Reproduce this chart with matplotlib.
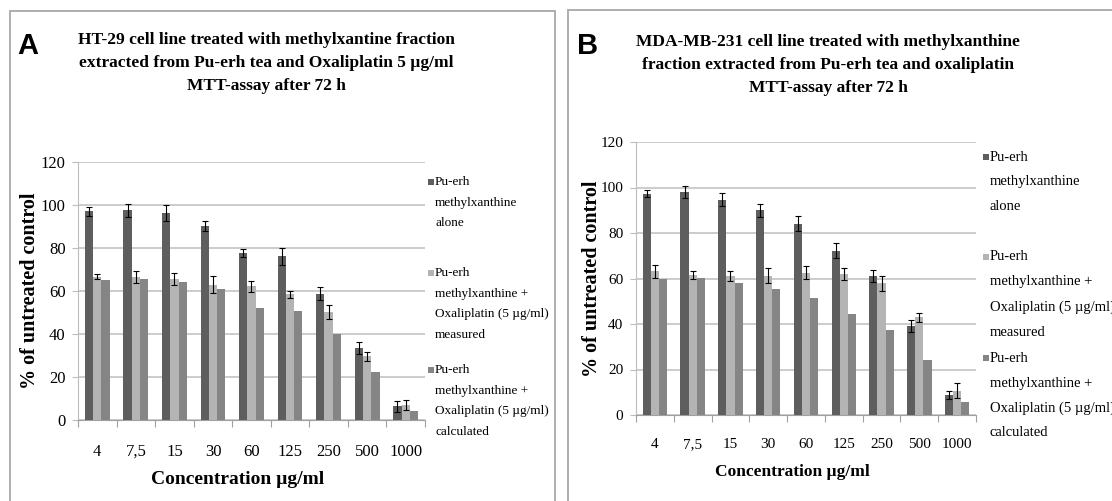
import numpy as np
import matplotlib
matplotlib.use('Agg')
import matplotlib.pyplot as plt
from matplotlib.patches import Rectangle

# Data
conc = ['4', '7,5', '15', '30', '60', '125', '250', '500', '1000']

a_alone = [97.1, 97.5, 96.2, 90.3, 77.7, 76.2, 58.8, 33.6, 6.3]
a_alone_err = [2.0, 3.0, 3.7, 2.2, 1.9, 4.0, 3.0, 2.7, 2.5]
a_meas = [66.6, 66.4, 65.7, 63.0, 62.1, 58.4, 50.3, 29.7, 7.0]
a_meas_err = [1.2, 2.7, 2.7, 3.9, 2.6, 1.5, 3.1, 2.1, 2.2]
a_calc = [65.0, 65.8, 64.3, 60.7, 52.2, 50.9, 39.8, 22.5, 4.3]

b_alone = [97.3, 98.0, 94.6, 89.9, 84.1, 72.3, 61.2, 39.2, 8.7]
b_alone_err = [1.6, 2.8, 2.8, 3.0, 3.4, 3.5, 2.7, 2.7, 1.8]
b_meas = [63.1, 61.6, 61.3, 61.2, 62.6, 61.9, 57.9, 43.0, 10.7]
b_meas_err = [2.9, 1.8, 2.2, 3.3, 2.9, 2.7, 3.4, 2.0, 3.3]
b_calc = [59.7, 60.1, 57.9, 55.3, 51.6, 44.3, 37.4, 24.1, 5.5]

legend_lines = [
    ['Pu-erh', 'methylxanthine', 'alone'],
    ['Pu-erh', 'methylxanthine +', 'Oxaliplatin (5 \u00b5g/ml)', 'measured'],
    ['Pu-erh', 'methylxanthine +', 'Oxaliplatin (5 \u00b5g/ml)', 'calculated'],
]
title_a = ('HT-29 cell line treated with methylxantine fraction\n'
           'extracted from Pu-erh tea and Oxaliplatin 5 \u00b5g/ml\n'
           'MTT-assay after 72 h')
title_b = ('MDA-MB-231 cell line treated with methylxanthine\n'
           'fraction extracted from Pu-erh tea and oxaliplatin\n'
           'MTT-assay after 72 h')

colors = ['#5e5e5e', '#b4b4b4', '#858585']
W, H = 1112, 501
SERIF = 'Liberation Serif'

fig = plt.figure(figsize=(W / 100, H / 100), dpi=100)
fig.patch.set_facecolor('white')


def fx(x):
    return x / W


def fy(y):
    return 1 - y / H


def panel(box, ax_box, series, errs, title, title_xy, letter_xy, letter,
          ylab_xy, xlab_xy, tick_fs, xpad, xlab_fs, leg_x, leg_y, leg_fs,
          leg_dy):
    # outer frame of the panel
    x0, y0, x1, y1 = box
    fig.add_artist(Rectangle((fx(x0), fy(y1)), fx(x1 - x0), (y1 - y0) / H,
                             transform=fig.transFigure, fill=False,
                             edgecolor='#a8a8a8', linewidth=1.3))
    l, t, r, b = ax_box
    ax = fig.add_axes([fx(l), fy(b), fx(r - l), (b - t) / H])
    x = np.arange(len(conc))
    w = 0.215
    for i, (vals, col) in enumerate(zip(series, colors)):
        ax.bar(x + (i - 1) * w, vals, w, color=col, zorder=3,
               yerr=errs[i], error_kw=dict(ecolor='black', elinewidth=0.8,
                                           capsize=2.5, capthick=0.8,
                                           zorder=4))
    ax.set_xlim(-0.5, len(conc) - 0.5)
    ax.set_ylim(0, 120)
    ax.set_yticks(range(0, 121, 20))
    ax.yaxis.grid(True, color='#c8c8c8', linewidth=1.3, zorder=0)
    ax.set_axisbelow(True)
    for s in ['top', 'right']:
        ax.spines[s].set_visible(False)
    ax.spines['left'].set_color('#bdbdbd')
    ax.spines['bottom'].set_color('#a0a0a0')
    ax.set_xticks(np.arange(-0.5, len(conc), 1))
    ax.set_xticklabels([])
    ax.set_xticks(x, minor=True)
    ax.set_xticklabels(conc, minor=True, fontsize=tick_fs, family=SERIF,
                       va='baseline')
    ax.tick_params(axis='x', which='major', length=5, color='#a0a0a0')
    ax.tick_params(axis='x', which='minor', length=0, pad=xpad)
    ax.tick_params(axis='y', length=4, color='#bdbdbd', pad=5,
                   labelsize=tick_fs)
    for lab in ax.get_yticklabels():
        lab.set_family(SERIF)

    fig.text(fx(title_xy[0]), fy(title_xy[1]), title, ha='center',
             va='center', family=SERIF, fontweight='bold', fontsize=12.5,
             linespacing=1.55)
    fig.text(fx(letter_xy[0]), fy(letter_xy[1]), letter, ha='center',
             va='center', family='Liberation Sans', fontweight='bold',
             fontsize=21)
    fig.text(fx(ylab_xy[0]), fy(ylab_xy[1]), '% of untreated control',
             rotation=90, ha='center', va='center', family=SERIF,
             fontweight='bold', fontsize=14.5)
    fig.text(fx(xlab_xy[0]), fy(xlab_xy[1]), 'Concentration \u00b5g/ml',
             ha='center', va='center', family=SERIF, fontweight='bold',
             fontsize=xlab_fs)

    # legend: small squares with wrapped labels
    for k, lines in enumerate(legend_lines):
        y = leg_y[k]
        fig.add_artist(Rectangle((fx(leg_x - 7), fy(y + 3)), fx(6), 6 / H,
                                 transform=fig.transFigure,
                                 facecolor=colors[k], edgecolor='none'))
        for j, line in enumerate(lines):
            fig.text(fx(leg_x), fy(y + j * leg_dy), line, ha='left',
                     va='center', family=SERIF, fontsize=leg_fs)
    return ax


panel((10, 11, 555, 520), (78, 162, 425, 420),
      [a_alone, a_meas, a_calc], [a_alone_err, a_meas_err, None],
      title_a, (266, 63), (28, 46), 'A', (30, 291), (238, 480),
      12, 26, 14, 435, [182, 273, 370], 9.5, 20.7)

panel((568, 10, 1130, 520), (636, 142, 976, 415),
      [b_alone, b_meas, b_calc], [b_alone_err, b_meas_err, None],
      title_b, (828, 65), (588, 46), 'B', (592, 279), (792, 472),
      11, 24, 12.5, 990, [157, 257, 358], 10.5, 25)

fig.savefig('out.png', dpi=100, facecolor='white')
